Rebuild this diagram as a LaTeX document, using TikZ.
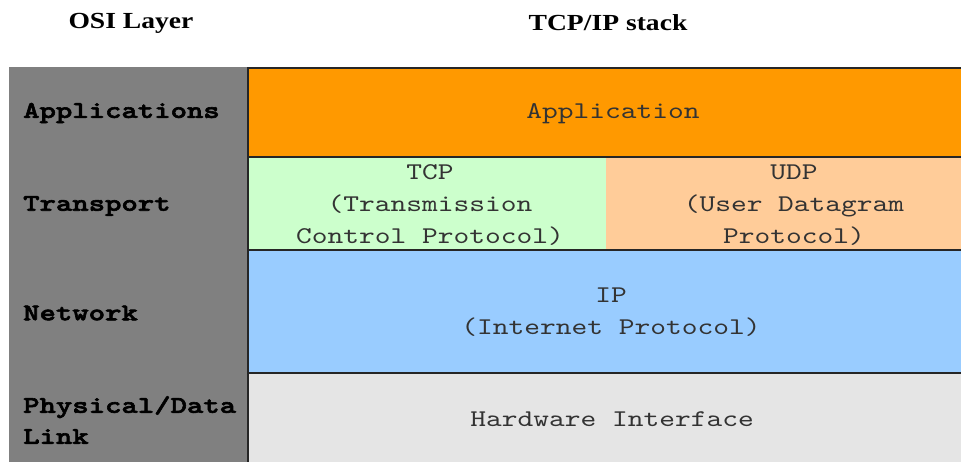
\documentclass[tikz,border=0pt]{standalone}
\usepackage{fontspec}
\newfontfamily\cellfont[Extension=.otf, FakeStretch=1.25]{lmmono10-regular}
\newfontfamily\labelfont[Extension=.otf, FakeStretch=1.3, FakeBold=2.5]{lmmonolt10-bold}
\newfontfamily\headfont[FakeStretch=1.2]{Liberation Serif}
\definecolor{osigray}{HTML}{808080}
\definecolor{appor}{HTML}{FF9900}
\definecolor{tcpgreen}{HTML}{CCFFCC}
\definecolor{udppeach}{HTML}{FFCC99}
\definecolor{ipblue}{HTML}{99CCFF}
\definecolor{hwgray}{HTML}{E5E5E5}
\definecolor{celltext}{HTML}{333333}
\tikzset{
  celltxt/.style={font=\cellfont\fontsize{24}{32}\selectfont, text=celltext,
    align=center, inner sep=0pt},
  osilabel/.style={font=\labelfont\fontsize{24}{31}\selectfont, text=black,
    align=left, anchor=west, inner sep=0pt},
  header/.style={font=\headfont\bfseries\fontsize{23}{28}\selectfont, text=black,
    inner sep=0pt},
  rule/.style={draw=black!85, line width=2pt}
}
\begin{document}
\begin{tikzpicture}[x=1pt, y=-1pt]
  \useasboundingbox (0,0) rectangle (961,461);
  \clip (0,0) rectangle (961,461);
  \fill[white] (0,0) rectangle (961,461);

  % headings
  \node[header] (hosi) at (131,23) {OSI Layer};
  \node[header] (htcp) at (608,23) {TCP/IP stack};

  % OSI column
  \fill[osigray] (9,67) rectangle (248,470);

  % TCP/IP layers
  \fill[appor]    (248,67)  rectangle (990,157);
  \fill[tcpgreen] (248,157) rectangle (606,250);
  \fill[udppeach] (606,157) rectangle (990,250);
  \fill[ipblue]   (248,250) rectangle (990,373);
  \fill[hwgray]   (248,373) rectangle (990,470);

  % borders between layers
  \draw[rule] (990,67.5) -- (248,67.5) -- (248,470);
  \draw[rule] (248,157) -- (990,157);
  \draw[rule] (248,250) -- (990,250);
  \draw[rule] (248,373) -- (990,373);

  % OSI layer names
  \node[osilabel] (lapp) at (23,113) {Applications};
  \node[osilabel] (ltra) at (23,206) {Transport};
  \node[osilabel] (lnet) at (23,313) {Network};
  \node[osilabel] (lphy) at (23,420) {Physical/Data\\Link};

  % protocol names
  \node[celltxt] (tapp) at (613,114) {Application};
  \node[celltxt] (ttcp) at (430,205) {TCP\\(Transmission\\Control Protocol)};
  \node[celltxt] (tudp) at (794,205) {UDP\\(User Datagram\\Protocol)};
  \node[celltxt] (tip)  at (611,312) {IP\\(Internet Protocol)};
  \node[celltxt] (thw)  at (612,419) {Hardware Interface};
\end{tikzpicture}
\end{document}
